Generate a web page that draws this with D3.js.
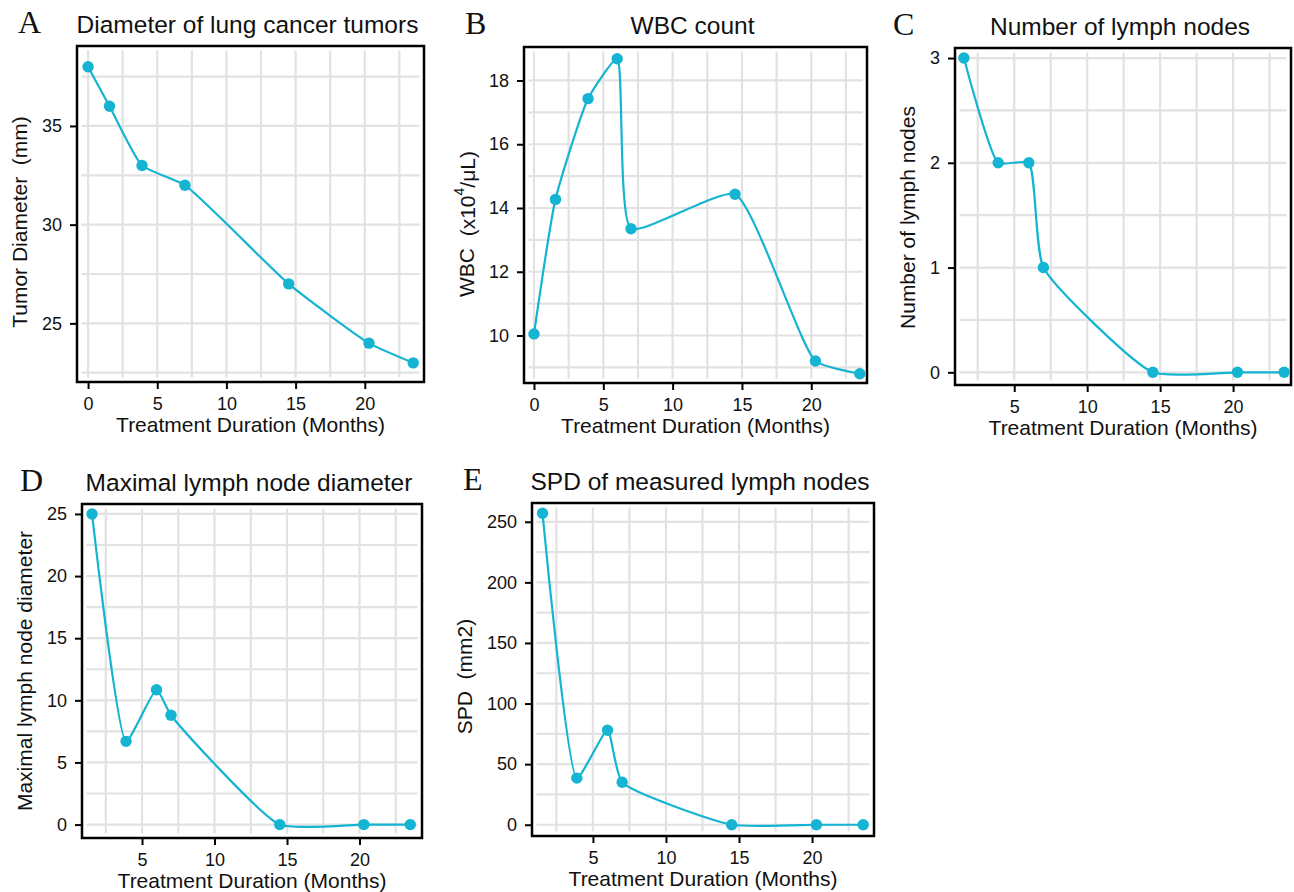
<!DOCTYPE html>
<html lang="en">
<head>
    <meta charset="UTF-8">
    <title>Treatment response panels</title>
    <style>
        body { margin: 0; background: #fff; }
        svg text { font-family: "Liberation Sans", Arial, sans-serif; fill: #111; }
        .letter { font-family: "Liberation Serif", "Times New Roman", serif; font-size: 32px; }
        .title { font-size: 24.5px; }
        .axis-title { font-size: 21px; white-space: pre; }
        .tick text { font-size: 18px; }
    </style>
    <script src="https://d3js.org/d3.v7.min.js"></script>
</head>
<body>
    <svg id="chart" width="1294" height="892"></svg>
    <script>
        // data
        var monthsA = [0, 1.55, 3.9, 7, 14.5, 20.3, 23.5];
        var tumorDiameter = [38, 36, 33, 32, 27, 24, 23];

        var monthsB = [0, 1.55, 3.9, 6, 7, 14.5, 20.3, 23.5];
        var wbcCount = [10.05, 14.27, 17.43, 18.68, 13.35, 14.43, 9.2, 8.8];

        var monthsLymph = [1.55, 3.9, 6, 7, 14.5, 20.3, 23.5];
        var lymphNodeCount = [3, 2, 2, 1, 0, 0, 0];
        var maxLymphDiameter = [25, 6.7, 10.85, 8.8, 0, 0, 0];
        var spdLymph = [257, 38.5, 78, 35, 0, 0, 0];

        var xTicks = [0, 5, 10, 15, 20];
        var yTicksA = [25, 30, 35];
        var yTicksB = [10, 12, 14, 16, 18];
        var yTicksC = [0, 1, 2, 3];
        var yTicksD = [0, 5, 10, 15, 20, 25];
        var yTicksE = [0, 50, 100, 150, 200, 250];

        var lineColor = "#14b4d2";

        var panels = [
            { letter: "A", title: "Diameter of lung cancer tumors", yTitle: "Tumor Diameter  (mm)",
              x: monthsA, y: tumorDiameter, yTicks: yTicksA,
              box: { left: 77, top: 46, right: 424, bottom: 382 },
              xDomain: [-0.8, 24.28], yDomain: [22.03, 39.05], letterX: 18, yTitleShift: 8 },
            { letter: "B", title: "WBC count", yTitle: "WBC",
              x: monthsB, y: wbcCount, yTicks: yTicksB,
              box: { left: 524, top: 47, right: 867, bottom: 383 },
              xDomain: [-0.72, 24.02], yDomain: [8.51, 19.05], letterX: 465, yTitleShift: 9 },
            { letter: "C", title: "Number of lymph nodes", yTitle: "Number of lymph nodes",
              x: monthsLymph, y: lymphNodeCount, yTicks: yTicksC,
              box: { left: 955, top: 48, right: 1291, bottom: 385 },
              xDomain: [0.94, 23.97], yDomain: [-0.121, 3.096], letterX: 893, yTitleShift: 1 },
            { letter: "D", title: "Maximal lymph node diameter", yTitle: "Maximal lymph node diameter",
              x: monthsLymph, y: maxLymphDiameter, yTicks: yTicksD,
              box: { left: 82, top: 504, right: 422, bottom: 838 },
              xDomain: [0.86, 24.31], yDomain: [-1.08, 25.8], letterX: 20, yTitleShift: 0 },
            { letter: "E", title: "SPD of measured lymph nodes", yTitle: "SPD  (mm2)",
              x: monthsLymph, y: spdLymph, yTicks: yTicksE,
              box: { left: 532, top: 503, right: 874, bottom: 836 },
              xDomain: [0.83, 24.24], yDomain: [-9.3, 265.5], letterX: 463, yTitleShift: 7 }
        ];

        // centripetal catmull-rom with its handles pulled in by s (s=1 -> plain, s=0 -> straight lines)
        function softCatmull(s) {
            function dist(a, b) { return Math.hypot(b[0] - a[0], b[1] - a[1]); }
            return function(context) {
                var pts;
                return {
                    areaStart: function() {}, areaEnd: function() {},
                    lineStart: function() { pts = []; },
                    point: function(x, y) { pts.push([+x, +y]); },
                    lineEnd: function() {
                        var n = pts.length;
                        if (!n) return;
                        context.moveTo(pts[0][0], pts[0][1]);
                        for (var i = 0; i < n - 1; i++) {
                            var p0 = pts[Math.max(i - 1, 0)], p1 = pts[i], p2 = pts[i + 1], p3 = pts[Math.min(i + 2, n - 1)];
                            var d1 = Math.sqrt(dist(p0, p1)), d2 = Math.sqrt(dist(p1, p2)), d3 = Math.sqrt(dist(p2, p3));
                            var c1 = p1.slice(), c2 = p2.slice();
                            if (d1 > 1e-6) {
                                var a = 2 * d1 * d1 + 3 * d1 * d2 + d2 * d2, nn = 3 * d1 * (d1 + d2);
                                c1 = [0, 1].map(k => (p1[k] * a - p0[k] * d2 * d2 + p2[k] * d1 * d1) / nn);
                            }
                            if (d3 > 1e-6) {
                                var b = 2 * d3 * d3 + 3 * d3 * d2 + d2 * d2, m = 3 * d3 * (d3 + d2);
                                c2 = [0, 1].map(k => (p2[k] * b + p1[k] * d3 * d3 - p3[k] * d2 * d2) / m);
                            }
                            context.bezierCurveTo(
                                p1[0] + s * (c1[0] - p1[0]), p1[1] + s * (c1[1] - p1[1]),
                                p2[0] + s * (c2[0] - p2[0]), p2[1] + s * (c2[1] - p2[1]),
                                p2[0], p2[1]);
                        }
                    }
                };
            };
        }

        var svg = d3.select("#chart");

        function minorsOf(ticks) {
            var step = ticks[1] - ticks[0];
            var out = ticks.map(function(t) { return t - step / 2; });
            out.push(ticks[ticks.length - 1] + step / 2);
            return out;
        }

        panels.forEach(function(p) {
            var b = p.box;
            var inset = 4.5;
            var g = svg.append("g");
            var x = d3.scaleLinear().domain(p.xDomain).range([b.left, b.right]);
            var y = d3.scaleLinear().domain(p.yDomain).range([b.bottom, b.top]);

            var xT = xTicks.filter(function(t) { return t >= p.xDomain[0] && t <= p.xDomain[1]; });
            var xAll = xTicks.concat(minorsOf(xTicks)).filter(function(t) {
                return x(t) > b.left + inset && x(t) < b.right - inset;
            });
            var yAll = p.yTicks.concat(minorsOf(p.yTicks)).filter(function(t) {
                return y(t) > b.top + inset && y(t) < b.bottom - inset;
            });

            // grid
            g.selectAll(".vgrid").data(xAll).enter().append("line")
                .attr("x1", d => x(d)).attr("x2", d => x(d))
                .attr("y1", b.top + inset).attr("y2", b.bottom - inset)
                .attr("stroke", "#e2e2e2").attr("stroke-width", 2.2);
            g.selectAll(".hgrid").data(yAll).enter().append("line")
                .attr("y1", d => y(d)).attr("y2", d => y(d))
                .attr("x1", b.left + inset).attr("x2", b.right - inset)
                .attr("stroke", "#e2e2e2").attr("stroke-width", 2.2);

            // axes
            var xAxis = g.append("g")
                .attr("transform", "translate(0," + b.bottom + ")")
                .call(d3.axisBottom(x).tickValues(xT).tickSize(7).tickPadding(8).tickFormat(d3.format("d")));
            var yAxis = g.append("g")
                .attr("transform", "translate(" + b.left + ",0)")
                .call(d3.axisLeft(y).tickValues(p.yTicks).tickSize(7).tickPadding(8).tickFormat(d3.format("d")));
            [xAxis, yAxis].forEach(function(a) {
                a.select(".domain").remove();
                a.selectAll(".tick line").attr("stroke", "#000").attr("stroke-width", 2);
                a.selectAll(".tick text").attr("fill", "#111");
            });

            // frame
            g.append("rect")
                .attr("x", b.left).attr("y", b.top)
                .attr("width", b.right - b.left).attr("height", b.bottom - b.top)
                .attr("fill", "none").attr("stroke", "#000").attr("stroke-width", 2.5);

            // line + points
            var pts = p.x.map(function(v, i) { return [v, p.y[i]]; });
            var line = d3.line()
                .x(d => x(d[0])).y(d => y(d[1]))
                .curve(softCatmull(0.5));
            g.append("path")
                .attr("d", line(pts))
                .attr("fill", "none")
                .attr("stroke", lineColor)
                .attr("stroke-width", 2.2);
            g.selectAll("circle").data(pts).enter().append("circle")
                .attr("cx", d => x(d[0])).attr("cy", d => y(d[1]))
                .attr("r", 5.7)
                .attr("fill", lineColor);

            // texts
            var cx = (b.left + b.right) / 2;
            g.append("text").attr("class", "title")
                .attr("x", cx - 3).attr("y", b.top - 13)
                .attr("text-anchor", "middle").text(p.title);
            g.append("text").attr("class", "letter")
                .attr("x", p.letterX).attr("y", b.top - 13).text(p.letter);
            g.append("text").attr("class", "axis-title")
                .attr("x", cx).attr("y", b.bottom + 50)
                .attr("text-anchor", "middle").text("Treatment Duration (Months)");

            var lx = yAxis.node().getBBox().x + b.left - 22;
            var ly = (b.top + b.bottom) / 2 + p.yTitleShift;
            var yt = g.append("text").attr("class", "axis-title")
                .attr("transform", "translate(" + lx + "," + ly + ") rotate(-90)")
                .attr("text-anchor", "middle")
                .attr("dominant-baseline", "central")
                .text(p.yTitle);
            if (p.letter === "B") {
                yt.append("tspan").text("  (x10");
                yt.append("tspan").attr("baseline-shift", "super").attr("font-size", "14px").text("4");
                yt.append("tspan").text("/\u03bcL)");
            }
        });
    </script>
</body>
</html>
